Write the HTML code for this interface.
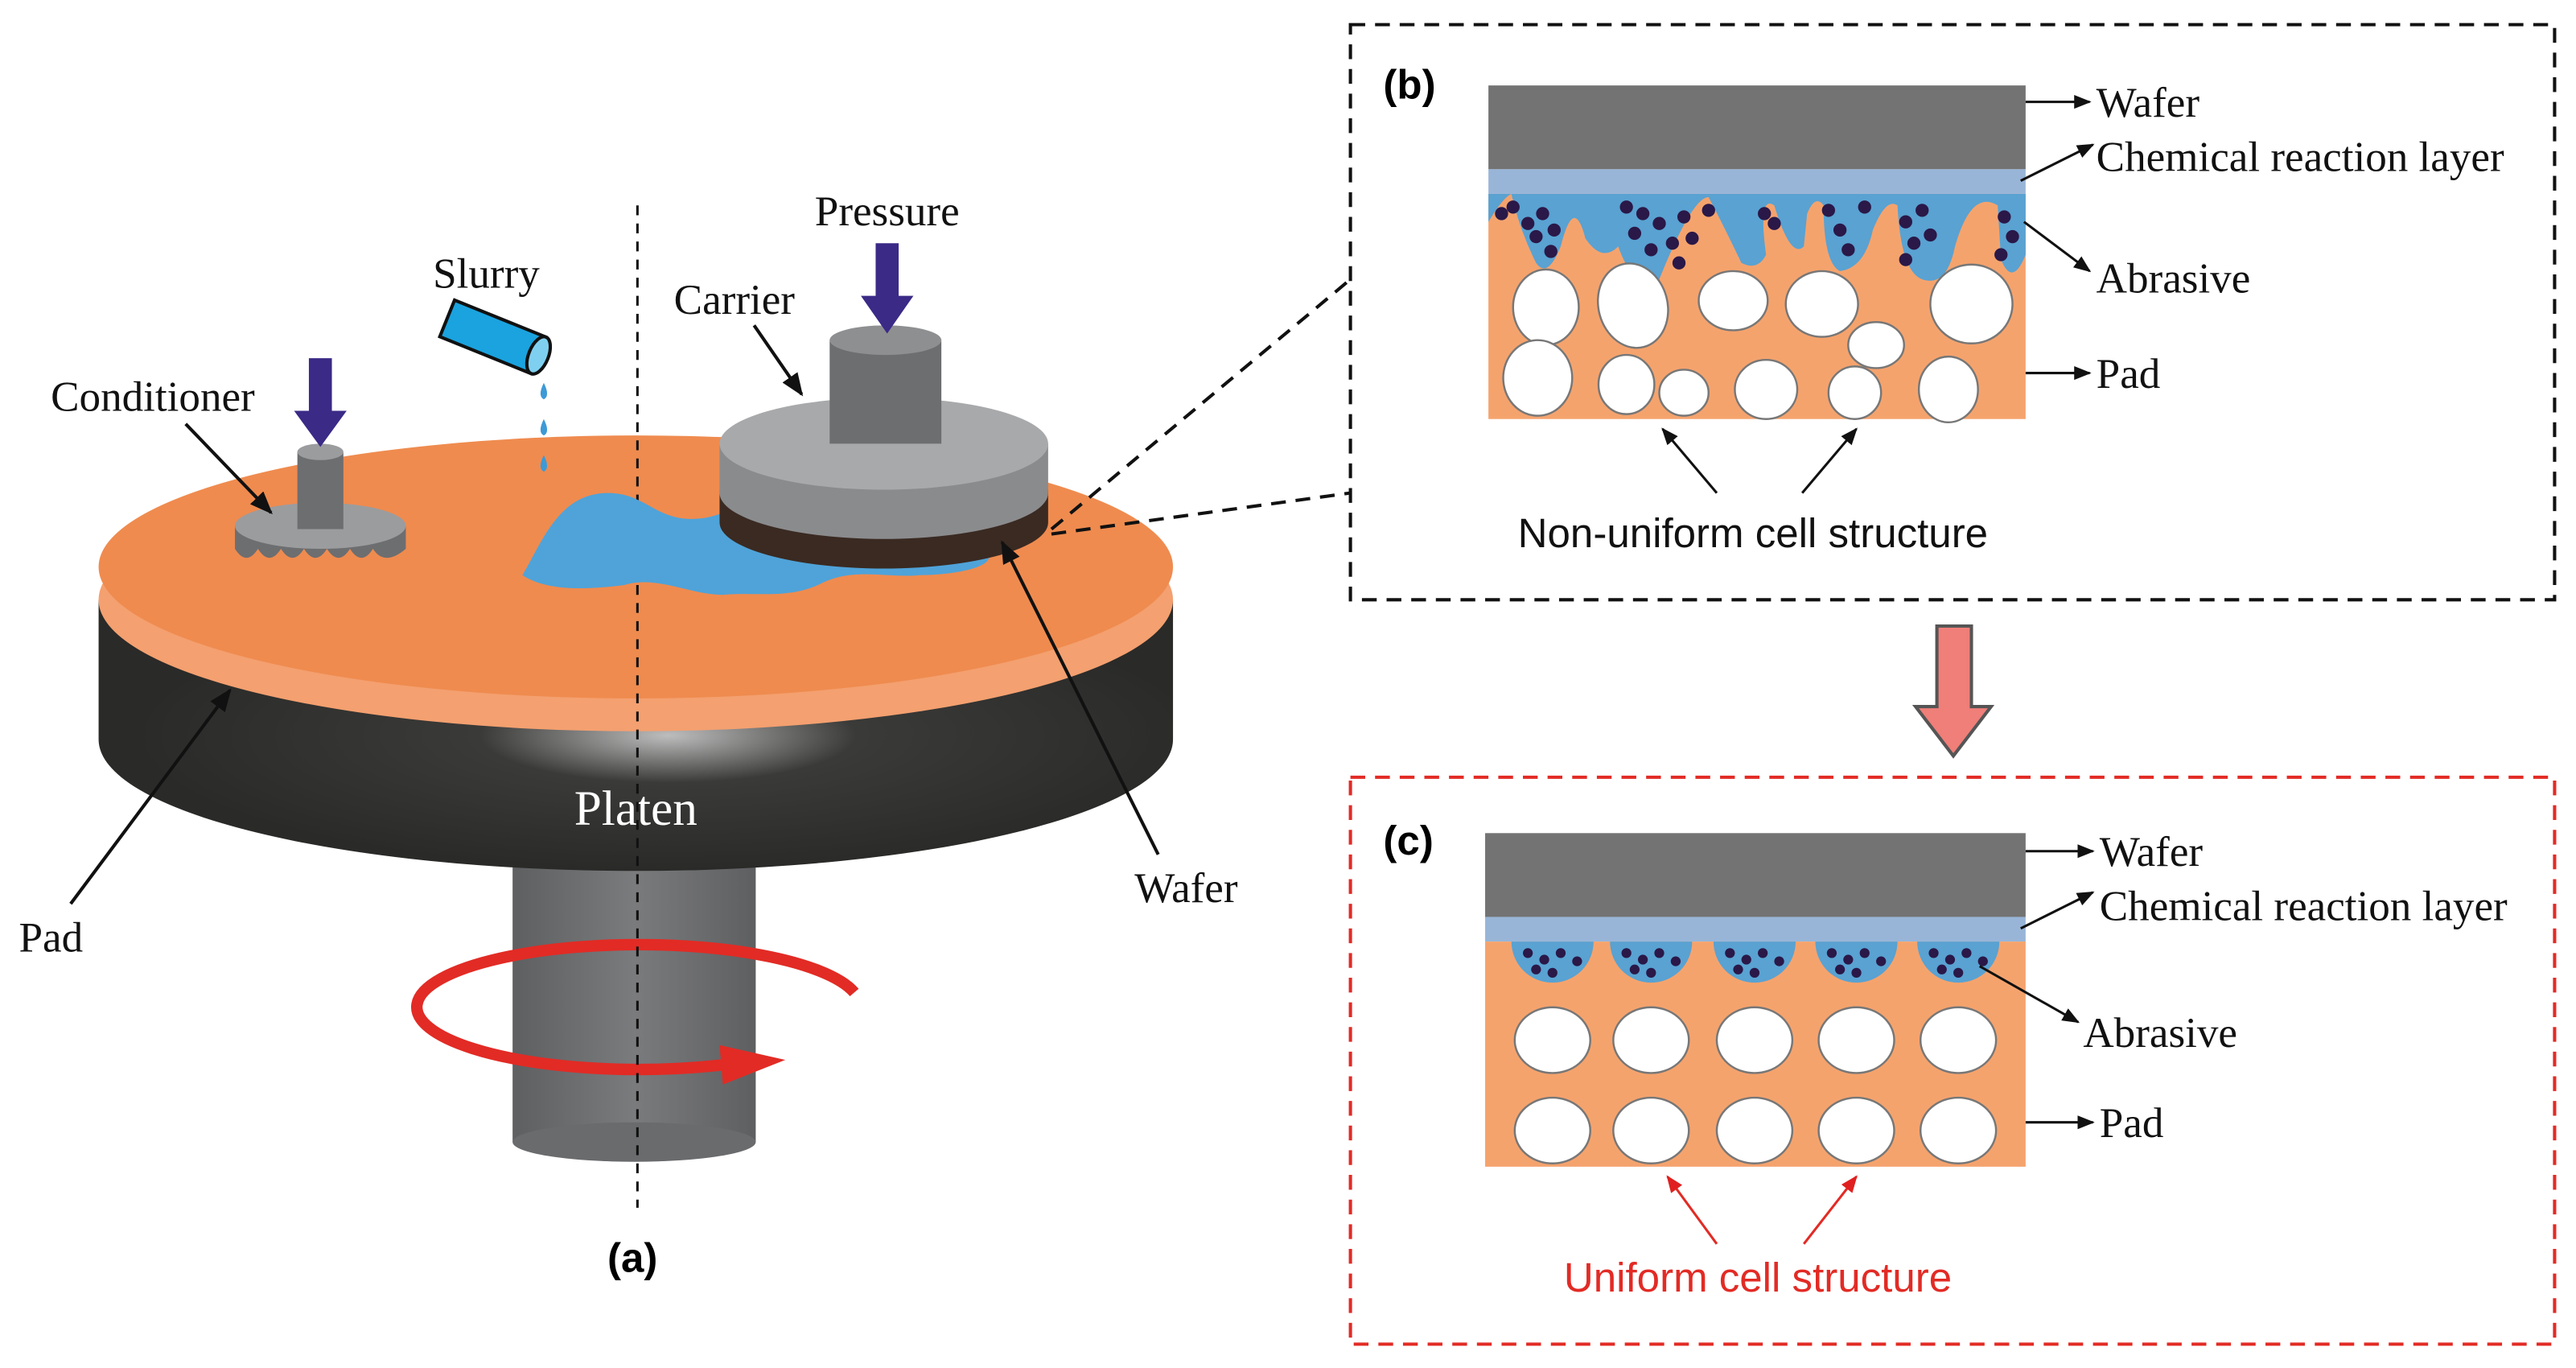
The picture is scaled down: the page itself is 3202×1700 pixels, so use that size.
<!DOCTYPE html>
<html><head><meta charset="utf-8"><style>
html,body{margin:0;padding:0;background:#fff}
svg{display:block}
.t{font-family:"Liberation Serif",serif;font-size:26px;fill:#111}
.s{font-family:"Liberation Sans",sans-serif;font-size:25px}
</style></head><body>
<svg width="3202" height="1700" viewBox="0 0 1568 832.5" xmlns="http://www.w3.org/2000/svg">
<defs>
<marker id="a" viewBox="0 0 10 10" refX="9" refY="5" markerWidth="7" markerHeight="7" orient="auto-start-reverse"><path d="M0,1 L10,5 L0,9 z" fill="#111"/></marker>
<marker id="ar" viewBox="0 0 10 10" refX="9" refY="5" markerWidth="7" markerHeight="7" orient="auto-start-reverse"><path d="M0,1 L10,5 L0,9 z" fill="#e02020"/></marker>
<radialGradient id="pg" cx="0.53" cy="0.5" r="0.5"><stop offset="0" stop-color="#bdbdbd"/><stop offset="0.35" stop-color="#3a3a38"/><stop offset="1" stop-color="#2a2a28"/></radialGradient>
<linearGradient id="sg" x1="0" x2="1"><stop offset="0" stop-color="#5e5f61"/><stop offset="0.5" stop-color="#7a7b7d"/><stop offset="1" stop-color="#5e5f61"/></linearGradient>
</defs>
<rect x="312" y="470" width="148" height="225" fill="url(#sg)"/>
<ellipse cx="386" cy="695" rx="74" ry="12" fill="#6a6b6d"/>
<path d="M60,365 L60,450 A327,80 0 0 0 714,450 L714,365 z" fill="url(#pg)"/>
<ellipse cx="387" cy="365" rx="327" ry="80" fill="#f4a070"/>
<ellipse cx="387" cy="345" rx="327" ry="80" fill="#ef8b4f"/>
<text x="387" y="502" class="t" style="fill:#fff;font-size:30px" text-anchor="middle">Platen</text>
<path d="M520,604 A135,38 0 1 0 440,648" fill="none" stroke="#e22b25" stroke-width="7"/>
<path d="M438,636 L478,645 L440,660 z" fill="#e22b25"/>
<line x1="388" y1="125" x2="388" y2="735" stroke="#111" stroke-width="1.5" stroke-dasharray="6,5"/>
<path d="M318,350 C330,330 340,300 370,300 C395,300 400,320 430,315 C455,310 470,290 500,300 C530,310 560,330 600,335 C610,345 580,350 560,350 C540,352 520,345 500,355 C480,365 460,360 440,362 C420,362 400,350 380,356 C350,360 330,358 318,350 z" fill="#4fa3d9"/>
<path d="M143,320 L143,334 Q150,345 157,334 Q164,345 171,334 Q178,345 185,334 Q192,345 199,334 Q206,345 213,334 Q220,345 227,334 Q234,345 247,334 L247,320 z" fill="#6d6e70"/>
<ellipse cx="195" cy="320" rx="52" ry="14" fill="#9b9c9e"/>
<rect x="181" y="275" width="28" height="47" fill="#6d6e70"/>
<ellipse cx="195" cy="275" rx="14" ry="5" fill="#9b9c9e"/>
<path d="M188,218 L202,218 L202,250 L211,250 L195,272 L179,250 L188,250 z" fill="#3b2a86"/>
<g transform="translate(300,205) rotate(22)"><rect x="-30" y="-12" width="60" height="24" fill="#1aa3df" stroke="#111" stroke-width="2"/><ellipse cx="30" cy="0" rx="6" ry="12" fill="#7fd0f0" stroke="#111" stroke-width="2"/></g>
<g fill="#3d9ad6"><path d="M331,233 q-4,8 0,10 q4,-2 0,-10z"/><path d="M331,255 q-4,8 0,10 q4,-2 0,-10z"/><path d="M331,277 q-4,8 0,10 q4,-2 0,-10z"/></g>
<path d="M438,298 L438,318 A100,28 0 0 0 638,318 L638,298 z" fill="#3a2a22"/>
<path d="M438,270 L438,300 A100,28 0 0 0 638,300 L638,270 z" fill="#8a8b8d"/>
<ellipse cx="538" cy="270" rx="100" ry="28" fill="#a8a9ab"/>
<rect x="505" y="207" width="68" height="63" fill="#6d6e70"/>
<ellipse cx="539" cy="207" rx="34" ry="9" fill="#8e8f91"/>
<path d="M533,148 L547,148 L547,180 L556,180 L540,203 L524,180 L533,180 z" fill="#3b2a86"/>
<line x1="640" y1="322" x2="822" y2="170" stroke="#111" stroke-width="2" stroke-dasharray="9,6"/>
<line x1="640" y1="325" x2="822" y2="300" stroke="#111" stroke-width="2" stroke-dasharray="9,6"/>
<text x="540" y="137" class="t" text-anchor="middle">Pressure</text>
<text x="296" y="175" class="t" text-anchor="middle">Slurry</text>
<text x="447" y="191" class="t" text-anchor="middle">Carrier</text>
<text x="93" y="250" class="t" text-anchor="middle">Conditioner</text>
<text x="722" y="549" class="t" text-anchor="middle">Wafer</text>
<text x="31" y="579" class="t" text-anchor="middle">Pad</text>
<text x="385" y="774" class="s" text-anchor="middle" font-weight="bold">(a)</text>
<g stroke="#111" stroke-width="2" fill="none" marker-end="url(#a)">
<line x1="459" y1="198" x2="488" y2="240"/>
<line x1="113" y1="258" x2="165" y2="312"/>
<line x1="43" y1="550" x2="140" y2="420"/>
<line x1="705" y1="520" x2="610" y2="330"/>
</g>
<rect x="822" y="15" width="733" height="350" fill="none" stroke="#111" stroke-width="2" stroke-dasharray="9,6"/>
<text x="842" y="60" class="s" font-weight="bold">(b)</text>
<rect x="906" y="52" width="327" height="51" fill="#727372"/>
<rect x="906" y="103" width="327" height="15" fill="#98b5d8"/>
<rect x="906" y="118" width="327" height="137" fill="#f5a36d"/>
<path d="M906,118 L1233,118 L1233,155 Q1225,175 1218,158 L1216,125 Q1200,115 1190,150 Q1185,175 1170,170 Q1157,165 1155,125 Q1148,120 1140,140 Q1135,163 1120,165 Q1110,160 1110,125 Q1105,118 1100,130 L1098,150 Q1090,158 1080,125 Q1070,118 1075,155 Q1070,165 1060,160 Q1048,135 1040,120 Q1030,120 1010,170 Q995,178 985,150 Q975,160 965,145 Q958,118 950,150 Q942,170 935,160 Q925,140 920,118 Q915,120 906,135 z" fill="#59a2d2"/>
<g fill="#2a1848">
<circle cx="914" cy="130" r="4"/><circle cx="921" cy="126" r="4"/><circle cx="930" cy="136" r="4"/><circle cx="939" cy="130" r="4"/><circle cx="935" cy="144" r="4"/><circle cx="946" cy="140" r="4"/><circle cx="944" cy="153" r="4"/><circle cx="990" cy="126" r="4"/><circle cx="1000" cy="130" r="4"/><circle cx="995" cy="142" r="4"/><circle cx="1010" cy="136" r="4"/><circle cx="1018" cy="148" r="4"/><circle cx="1025" cy="132" r="4"/><circle cx="1030" cy="145" r="4"/><circle cx="1022" cy="160" r="4"/><circle cx="1040" cy="128" r="4"/><circle cx="1005" cy="152" r="4"/><circle cx="1074" cy="130" r="4"/><circle cx="1080" cy="136" r="4"/><circle cx="1113" cy="128" r="4"/><circle cx="1120" cy="140" r="4"/><circle cx="1135" cy="126" r="4"/><circle cx="1125" cy="152" r="4"/><circle cx="1160" cy="135" r="4"/><circle cx="1170" cy="128" r="4"/><circle cx="1165" cy="148" r="4"/><circle cx="1175" cy="143" r="4"/><circle cx="1160" cy="158" r="4"/><circle cx="1220" cy="132" r="4"/><circle cx="1225" cy="144" r="4"/><circle cx="1218" cy="155" r="4"/>
</g>
<g fill="#fff" stroke="#777" stroke-width="1.2">
<ellipse cx="941" cy="187" rx="20" ry="23"/><ellipse cx="994" cy="186" rx="21" ry="26" transform="rotate(-15 994 186)"/><ellipse cx="1055" cy="183" rx="21" ry="18"/><ellipse cx="1109" cy="185" rx="22" ry="20"/><ellipse cx="1200" cy="185" rx="25" ry="24"/><ellipse cx="1142" cy="210" rx="17" ry="14"/>
<ellipse cx="936" cy="230" rx="21" ry="23"/><ellipse cx="990" cy="234" rx="17" ry="18"/><ellipse cx="1025" cy="239" rx="15" ry="14"/><ellipse cx="1075" cy="237" rx="19" ry="18"/><ellipse cx="1129" cy="239" rx="16" ry="16"/><ellipse cx="1186" cy="237" rx="18" ry="20"/>
</g>
<g stroke="#111" stroke-width="1.5" marker-end="url(#a)">
<line x1="1233" y1="62" x2="1272" y2="62"/><line x1="1230" y1="110" x2="1274" y2="88"/><line x1="1232" y1="135" x2="1272" y2="165"/><line x1="1233" y1="227" x2="1272" y2="227"/>
<line x1="1045" y1="300" x2="1012" y2="261"/><line x1="1097" y1="300" x2="1130" y2="261"/>
</g>
<text x="1276" y="71" class="t">Wafer</text>
<text x="1276" y="104" class="t">Chemical reaction layer</text>
<text x="1276" y="178" class="t">Abrasive</text>
<text x="1276" y="236" class="t">Pad</text>
<text x="1067" y="333" class="s" text-anchor="middle" fill="#111">Non-uniform cell structure</text>
<path d="M1179,381 L1200,381 L1200,430 L1212,430 L1189,460 L1166,430 L1179,430 z" fill="#f07e79" stroke="#555" stroke-width="2"/>
<rect x="822" y="473" width="733" height="345" fill="none" stroke="#e22b25" stroke-width="2" stroke-dasharray="9,6"/>
<text x="842" y="520" class="s" font-weight="bold">(c)</text>
<rect x="904" y="507" width="329" height="51" fill="#727372"/>
<rect x="904" y="558" width="329" height="15" fill="#98b5d8"/>
<rect x="904" y="573" width="329" height="137" fill="#f5a36d"/>
<g fill="#59a2d2"><path d="M920,573 a25,25 0 0 0 50,0z"/><path d="M980,573 a25,25 0 0 0 50,0z"/><path d="M1043,573 a25,25 0 0 0 50,0z"/><path d="M1105,573 a25,25 0 0 0 50,0z"/><path d="M1167,573 a25,25 0 0 0 50,0z"/></g>
<g fill="#2a1848">
<circle cx="930" cy="580" r="3"/><circle cx="940" cy="584" r="3"/><circle cx="950" cy="580" r="3"/><circle cx="960" cy="585" r="3"/><circle cx="945" cy="592" r="3"/><circle cx="935" cy="590" r="3"/>
<circle cx="990" cy="580" r="3"/><circle cx="1000" cy="584" r="3"/><circle cx="1010" cy="580" r="3"/><circle cx="1020" cy="585" r="3"/><circle cx="1005" cy="592" r="3"/><circle cx="995" cy="590" r="3"/>
<circle cx="1053" cy="580" r="3"/><circle cx="1063" cy="584" r="3"/><circle cx="1073" cy="580" r="3"/><circle cx="1083" cy="585" r="3"/><circle cx="1068" cy="592" r="3"/><circle cx="1058" cy="590" r="3"/>
<circle cx="1115" cy="580" r="3"/><circle cx="1125" cy="584" r="3"/><circle cx="1135" cy="580" r="3"/><circle cx="1145" cy="585" r="3"/><circle cx="1130" cy="592" r="3"/><circle cx="1120" cy="590" r="3"/>
<circle cx="1177" cy="580" r="3"/><circle cx="1187" cy="584" r="3"/><circle cx="1197" cy="580" r="3"/><circle cx="1207" cy="585" r="3"/><circle cx="1192" cy="592" r="3"/><circle cx="1182" cy="590" r="3"/>
</g>
<g fill="#fff" stroke="#777" stroke-width="1.2">
<ellipse cx="945" cy="633" rx="23" ry="20"/><ellipse cx="1005" cy="633" rx="23" ry="20"/><ellipse cx="1068" cy="633" rx="23" ry="20"/><ellipse cx="1130" cy="633" rx="23" ry="20"/><ellipse cx="1192" cy="633" rx="23" ry="20"/>
<ellipse cx="945" cy="688" rx="23" ry="20"/><ellipse cx="1005" cy="688" rx="23" ry="20"/><ellipse cx="1068" cy="688" rx="23" ry="20"/><ellipse cx="1130" cy="688" rx="23" ry="20"/><ellipse cx="1192" cy="688" rx="23" ry="20"/>
</g>
<g stroke="#111" stroke-width="1.5" marker-end="url(#a)">
<line x1="1233" y1="518" x2="1274" y2="518"/><line x1="1230" y1="565" x2="1274" y2="543"/><line x1="1205" y1="588" x2="1265" y2="622"/><line x1="1233" y1="683" x2="1274" y2="683"/>
</g>
<g stroke="#e22b25" stroke-width="1.5" marker-end="url(#ar)">
<line x1="1045" y1="757" x2="1015" y2="716"/><line x1="1098" y1="757" x2="1130" y2="716"/>
</g>
<text x="1278" y="527" class="t">Wafer</text>
<text x="1278" y="560" class="t">Chemical reaction layer</text>
<text x="1268" y="637" class="t">Abrasive</text>
<text x="1278" y="692" class="t">Pad</text>
<text x="1070" y="786" class="s" text-anchor="middle" fill="#e22b25">Uniform cell structure</text>
</svg>
</body></html>
